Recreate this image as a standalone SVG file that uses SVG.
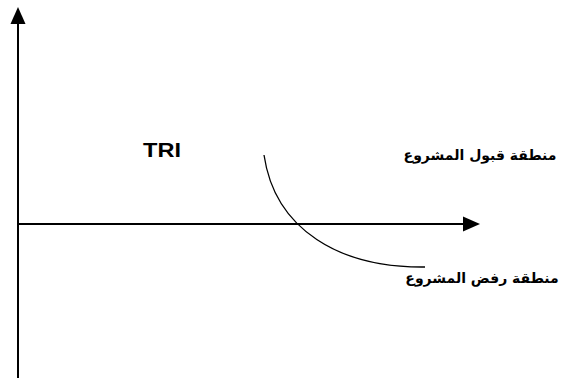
<svg xmlns="http://www.w3.org/2000/svg" width="567" height="378" viewBox="0 0 567 378">
<style>
.ax{stroke:#000;stroke-width:2;fill:none}
.cv{stroke:#000;stroke-width:1.3;fill:none}
.lat{font-family:"Liberation Sans",Arial,sans-serif;font-weight:bold;font-size:19.5px;fill:#000}
.ar{font-family:"DejaVu Sans",sans-serif;font-weight:bold;font-size:14px;fill:#000}
.head{fill:#000}
</style>
<g id="connectors">
<line class="ax" x1="18" y1="378" x2="18" y2="22"/>
<path class="head" d="M10.5,24 L18,7 L25.5,24 z"/>
<line class="ax" x1="18" y1="224" x2="465" y2="224"/>
<path class="head" d="M463,216.5 L480,224 L463,231.5 z"/>
<path class="cv" d="M264,155 C275,230 340,268 425,267"/>
</g>
<g id="label-tri"><text class="lat" x="143" y="157" textLength="38" lengthAdjust="spacingAndGlyphs">TRI</text></g>
<g id="label-accept"><text class="ar" x="480" y="160" text-anchor="middle">منطقة قبول المشروع</text></g>
<g id="label-reject"><text class="ar" x="482" y="283" text-anchor="middle">منطقة رفض المشروع</text></g>
</svg>
